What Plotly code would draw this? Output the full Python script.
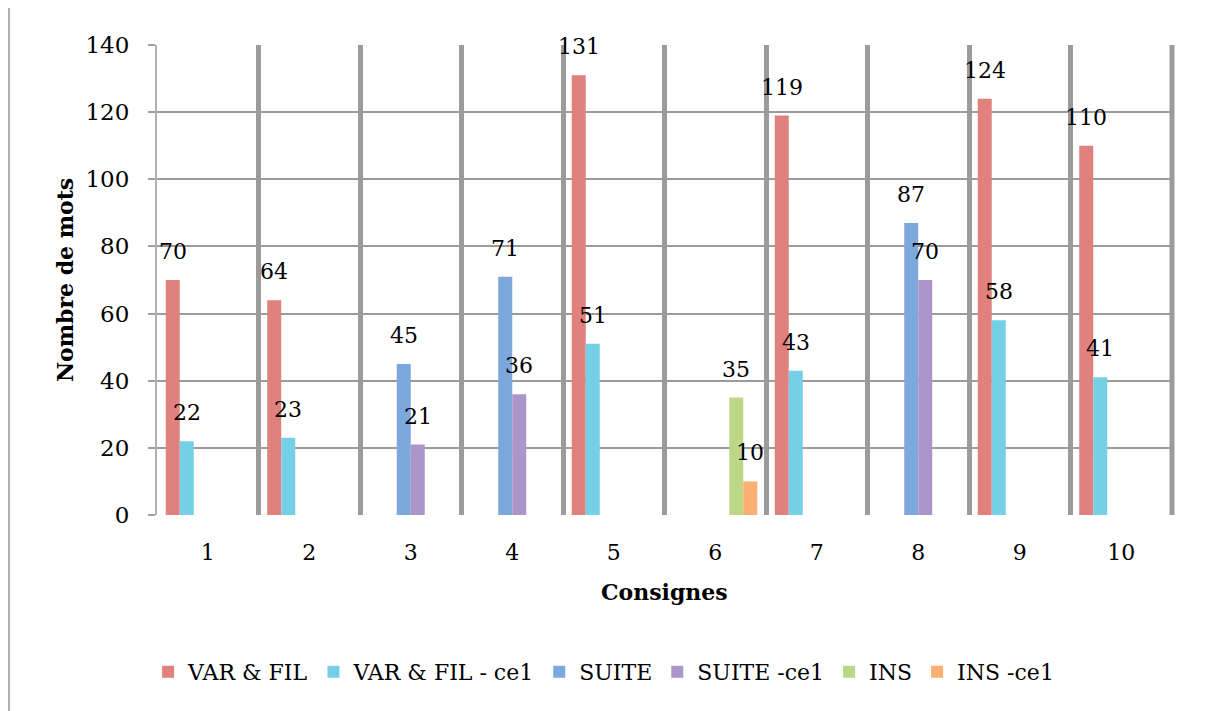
import plotly.graph_objects as go

consignes = [1, 2, 3, 4, 5, 6, 7, 8, 9, 10]
series_names = ["VAR & FIL", "VAR & FIL - ce1", "SUITE", "SUITE -ce1", "INS", "INS -ce1"]
var_fil = [70, 64, None, None, 131, None, 119, None, 124, 110]
var_fil_ce1 = [22, 23, None, None, 51, None, 43, None, 58, 41]
suite = [None, None, 45, 71, None, None, None, 87, None, None]
suite_ce1 = [None, None, 21, 36, None, None, None, 70, None, None]
ins = [None, None, None, None, None, 35, None, None, None, None]
ins_ce1 = [None, None, None, None, None, 10, None, None, None, None]
y_ticks = [0, 20, 40, 60, 80, 100, 120, 140]

all_series = [var_fil, var_fil_ce1, suite, suite_ce1, ins, ins_ce1]
colors = ["#E1817D", "#75CFE6", "#7CA8DD", "#AC95C8", "#BDD786", "#FBAF73"]

FONT = "DejaVu Serif"
GRID = "#9b9b9b"
BARGAP = 0.172

fig = go.Figure()
for name, vals, col in zip(series_names, all_series, colors):
    fig.add_trace(go.Bar(
        x=consignes, y=vals, name=name,
        marker=dict(color=col, line=dict(width=0)),
    ))

# data labels above each bar
n = len(all_series)
slot = (1 - BARGAP) / n
annotations = []
for i, vals in enumerate(all_series):
    for c, v in zip(consignes, vals):
        if v is None:
            continue
        annotations.append(dict(
            x=c - (1 - BARGAP) / 2 + (i + 0.5) * slot, y=v,
            xref="x", yref="y", text=str(v), showarrow=False,
            yanchor="bottom", yshift=14,
            font=dict(family=FONT, size=22, color="#000000"),
        ))

# axis titles
annotations.append(dict(
    x=0.5, y=-0.164, xref="paper", yref="paper", text="<b>Consignes</b>",
    showarrow=False, xanchor="center", yanchor="middle",
    font=dict(family=FONT, size=22, color="#000000"),
))
annotations.append(dict(
    x=-0.0906, y=0.5, xref="paper", yref="paper", text="<b>Nombre de mots</b>",
    showarrow=False, xanchor="center", yanchor="middle", textangle=-90,
    font=dict(family=FONT, size=22, color="#000000"),
))

fig.update_layout(
    width=1198, height=703,
    margin=dict(l=149, r=34, t=37, b=196),
    paper_bgcolor="white", plot_bgcolor="white",
    barmode="group", bargap=BARGAP, bargroupgap=0,
    font=dict(family=FONT, size=22, color="#000000"),
    annotations=annotations,
    legend=dict(
        orientation="h", x=0.44, xanchor="center", y=-0.334, yanchor="middle",
        font=dict(family=FONT, size=22, color="#000000"),
        itemwidth=30, traceorder="normal",
    ),
    shapes=[
        dict(type="line", xref="paper", yref="paper",
             x0=-0.1458, x1=-0.1458, y0=-0.45, y1=1.12,
             line=dict(color="#b0b0b0", width=2)),
        dict(type="line", xref="paper", yref="paper",
             x0=1, x1=1, y0=0, y1=1,
             line=dict(color=GRID, width=5)),
    ],
)

fig.update_xaxes(
    range=[0.5, 10.5], tickvals=consignes, ticktext=[str(c) for c in consignes],
    showgrid=False, zeroline=False, showline=False, ticks="",
    ticklabelstandoff=22,
    minor=dict(tick0=0.5, dtick=1, showgrid=True, gridcolor=GRID, gridwidth=5, ticks=""),
)
fig.update_yaxes(
    range=[0, 140], tickvals=y_ticks,
    showgrid=True, gridcolor=GRID, gridwidth=2,
    zeroline=False, showline=True, linecolor="#b0b0b0", linewidth=2,
    ticks="outside", ticklen=7, tickcolor="#a0a0a0", tickwidth=2,
    ticklabelstandoff=14, tickfont=dict(size=23),
)

fig.write_html("out.html")
